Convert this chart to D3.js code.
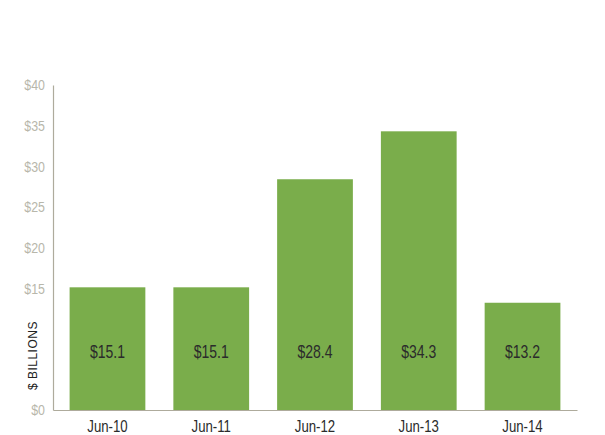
<!DOCTYPE html>
<html>
<head>
<meta charset="utf-8">
<script src="https://cdn.jsdelivr.net/npm/d3@7"></script>
<style>
  body { margin: 0; background: #fff; }
  text { font-family: "Liberation Sans", Arial, sans-serif; }
</style>
</head>
<body>
<div id="chart"></div>
<script>
// data
const periods = ["Jun-10", "Jun-11", "Jun-12", "Jun-13", "Jun-14"];
const values = [15.1, 15.1, 28.4, 34.3, 13.2];
const yTicks = [0, 15, 20, 25, 30, 35, 40];

const W = 605, H = 435;
const margin = { top: 85, right: 28, bottom: 25, left: 53 };
const width = W - margin.left - margin.right,
      height = H - margin.top - margin.bottom;

// the reference uses a condensed face, so squeeze text horizontally
const narrow = 0.8;

const svg = d3.select("#chart")
  .append("svg")
    .attr("width", W)
    .attr("height", H);

const g = svg.append("g")
  .attr("transform", `translate(${margin.left},${margin.top})`);

const x = d3.scaleBand()
  .domain(periods)
  .range([0, width])
  .paddingInner(0.27)
  .paddingOuter(0.16);

const y = d3.scaleLinear()
  .domain([0, 40])
  .range([height, 0]);

// bars
g.selectAll("rect.bar")
  .data(values)
  .enter()
  .append("rect")
    .attr("class", "bar")
    .attr("x", (d, i) => x(periods[i]))
    .attr("y", d => y(d))
    .attr("width", x.bandwidth())
    .attr("height", d => y(0) - y(d))
    .attr("fill", "#7aad4b");

// value labels inside bars
g.selectAll("g.val")
  .data(values)
  .enter()
  .append("g")
    .attr("class", "val")
    .attr("transform", (d, i) => `translate(${x(periods[i]) + x.bandwidth() / 2},${y(7.2)})`)
  .append("text")
    .attr("transform", `scale(${narrow},1)`)
    .attr("dy", "0.35em")
    .attr("text-anchor", "middle")
    .style("font-size", "17.5px")
    .style("fill", "#2b2b2b")
    .text(d => "$" + d.toFixed(1));

// y axis
const yAxis = g.append("g")
  .call(d3.axisLeft(y).tickValues(yTicks).tickSize(0).tickPadding(8).tickFormat(d => "$" + d));
yAxis.select(".domain").attr("stroke", "#aeab9c").attr("stroke-width", 1.2);
yAxis.selectAll("text")
  .attr("x", -8 / narrow)
  .attr("transform", `scale(${narrow},1)`)
  .style("font-size", "15.5px")
  .style("fill", "#b8b7ab")
  .style("font-family", "'Liberation Sans', sans-serif");

// x axis
const xAxis = g.append("g")
  .attr("transform", `translate(0,${height})`)
  .call(d3.axisBottom(x).tickSize(0).tickPadding(10));
xAxis.select(".domain").attr("stroke", "#aeab9c").attr("stroke-width", 1.2);
xAxis.selectAll("text")
  .attr("transform", `scale(${narrow},1)`)
  .style("font-size", "16.5px")
  .style("fill", "#2b2b2b")
  .style("font-family", "'Liberation Sans', sans-serif");

// axis title
g.append("text")
  .attr("transform", `translate(-16,${y(6.7)}) rotate(-90)`)
  .attr("text-anchor", "middle")
  .style("font-size", "12px")
  .style("letter-spacing", "0.5px")
  .style("fill", "#222")
  .text("$ BILLIONS");
</script>
</body>
</html>
